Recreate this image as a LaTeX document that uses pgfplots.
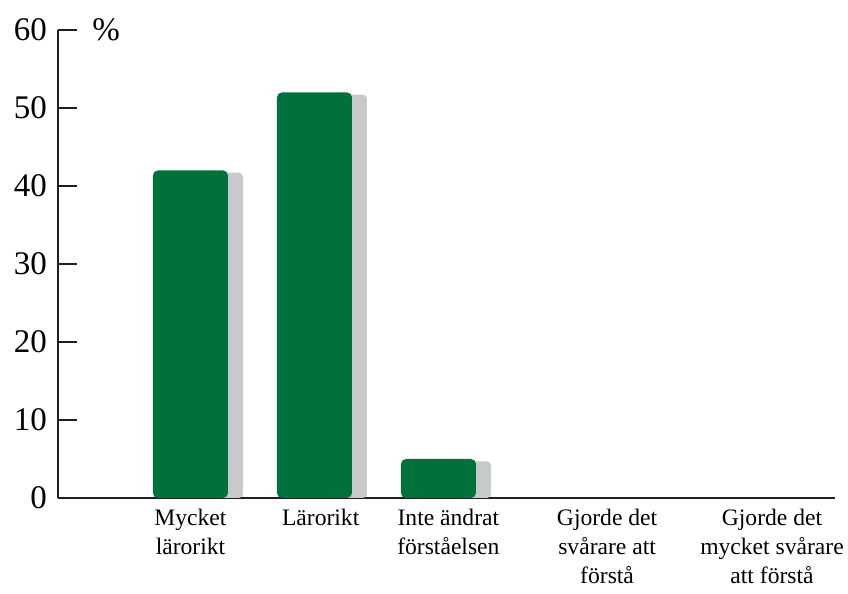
\documentclass[border=0pt]{standalone}
\usepackage{fontspec}
\setmainfont{Liberation Serif}
\usepackage{pgfplots}
\pgfplotsset{compat=1.18}
\definecolor{bargreen}{HTML}{00713A}
\definecolor{bargrey}{HTML}{C8C9CB}
\definecolor{axisgrey}{HTML}{231F20}
\begin{document}
\begin{tikzpicture}
\useasboundingbox (-29pt,-48pt) rectangle (395pt,249pt);
\begin{axis}[
  at={(0,0)}, anchor=south west,
  scale only axis,
  width=388.5pt, height=234pt,
  xmin=-1.0685, xmax=5.198,
  ymin=0, ymax=60,
  axis lines*=left,
  axis line style={-, line width=1pt, color=axisgrey},
  ytick={0,10,20,30,40,50,60},
  ytick style={line width=0.8pt, color=axisgrey},
  tick align=inside,
  major tick length=9.5pt,
  /pgf/number format/assume math mode=true,
  yticklabel style={font=\fontsize{16.5}{18}\selectfont, xshift=-2pt},
  xtick={0,1.05,2.08,3.36,4.69},
  xtick style={draw=none},
  xticklabels={Mycket\\lärorikt, Lärorikt, Inte ändrat\\förståelsen, Gjorde det\\svårare att\\förstå, Gjorde det\\mycket svårare\\att förstå},
  xticklabel style={align=center, font=\fontsize{11.8}{14.5}\selectfont, anchor=north, yshift=5pt, inner sep=1pt},
  ylabel={\%},
  ylabel style={rotate=-90, at={(axis description cs:0.062,1)}, anchor=center, font=\fontsize{16.5}{18}\selectfont},
  ybar=0pt, bar width=37.5pt,
]
\addplot[fill=bargrey, draw=none, bar shift=7.5pt, rounded corners=2pt] coordinates {(0,41.7) (1,51.7) (2,4.7)};
\addplot[fill=bargreen, draw=none, bar shift=0pt, rounded corners=2.5pt] coordinates {(0,42) (1,52) (2,5)};
\end{axis}
\end{tikzpicture}
\end{document}
